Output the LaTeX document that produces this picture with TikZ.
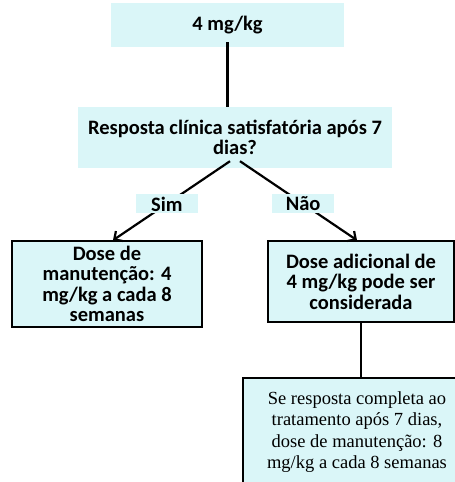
\documentclass[tikz,border=0pt]{standalone}
\usepackage{fontspec}
\setmainfont{Carlito}
\newfontfamily\timesfont{Liberation Serif}
\usetikzlibrary{positioning,arrows.meta,calc}
\definecolor{flowcyan}{HTML}{DAF6F8}
\tikzset{
  flowbox/.style={fill=flowcyan, align=center, inner sep=2pt,
    font=\fontsize{20.5}{20.5}\selectfont\bfseries},
  framedbox/.style={flowbox, draw=black, line width=1.5pt},
  answer/.style={flowbox, minimum width=62pt, minimum height=19pt, inner sep=0pt},
  link/.style={line width=2.2pt},
  linkarrow/.style={link, -{Straight Barb[length=6pt,width=12pt]}}
}

\begin{document}
\begin{tikzpicture}[x=1pt,y=1pt]
    \useasboundingbox (0,0) rectangle (455,-482);
    \clip (0,0) rectangle (455,-482);

    % Start
    \node[flowbox, minimum width=233pt, minimum height=44pt] (dose4) at (227.5,-25) {4 mg/kg};

    % Question
    \node[flowbox, minimum width=314pt, minimum height=61pt] (resposta) at (235,-137.5)
        {Resposta clínica satisfatória após 7\\dias?};

    % Outcomes
    \node[framedbox, minimum width=190pt, minimum height=86pt] (manut) at (107,-284)
        {Dose de\\manutenção: 4\\mg/kg a cada 8\\semanas};
    \node[framedbox, minimum width=186pt, minimum height=81pt] (adicional) at (361,-281.5)
        {Dose adicional de\\4 mg/kg pode ser\\considerada};
    \node[framedbox, minimum width=228pt, minimum height=108pt,
          font=\fontsize{18.5}{21.5}\selectfont\timesfont] (completa) at (357,-432)
        {Se resposta completa ao\\tratamento após 7 dias,\\dose de manutenção: 8\\mg/kg a cada 8 semanas};

    % Connectors
    \draw[link] ([yshift=5pt]dose4.south) -- (dose4.south |- resposta.north);
    \draw[linkarrow] ([xshift=-5pt,yshift=7pt]resposta.south) --
        node[answer, pos=0.54] (sim) {Sim} ([xshift=6pt]manut.north);
    \draw[linkarrow] ([xshift=5pt,yshift=7pt]resposta.south) --
        node[answer, pos=0.54] (nao) {Não} ([xshift=-4pt]adicional.north);
    \draw[link] (adicional.south) -- (adicional.south |- completa.north);
\end{tikzpicture}
\end{document}
